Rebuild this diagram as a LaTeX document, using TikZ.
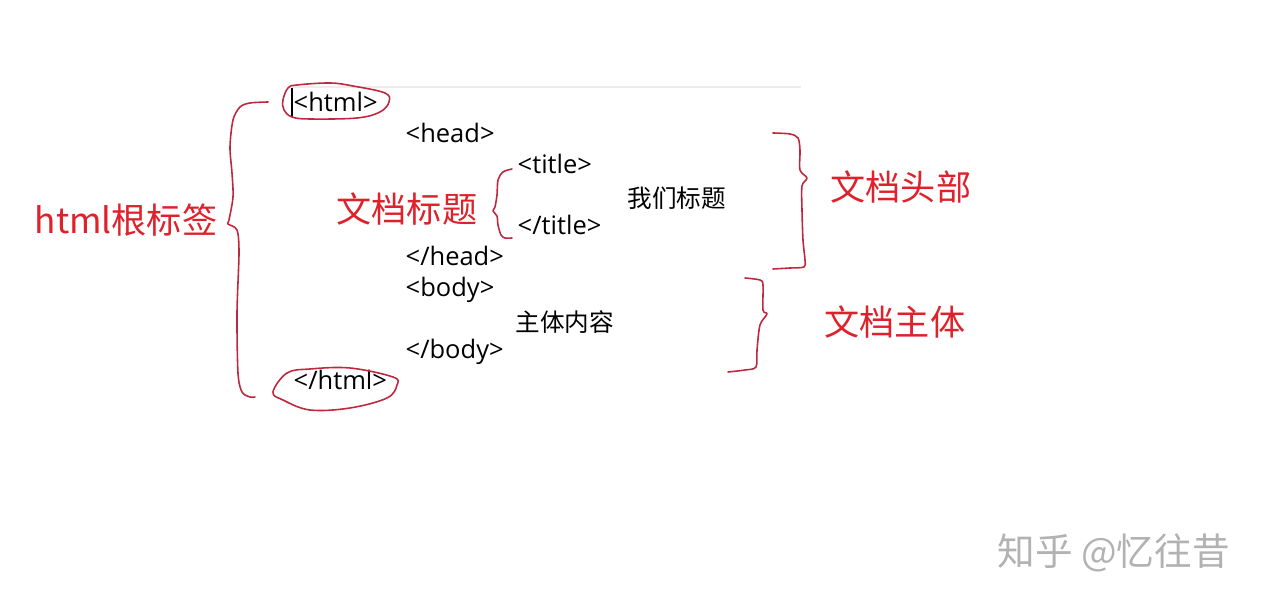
\documentclass[tikz,border=0pt]{standalone}
\usepackage{fontspec}
\setmainfont{Open Sans}
\newfontfamily\cjk{Noto Sans CJK SC}
\definecolor{inkred}{RGB}{222,34,44}
\definecolor{penred}{RGB}{190,40,62}
\tikzset{
    tagtext/.style={anchor=base west, inner sep=0pt, font=\fontsize{7.25}{8}\selectfont},
    cntext/.style={anchor=west, inner sep=0pt, font=\cjk\fontsize{7}{8}\selectfont},
    redlabel/.style={anchor=west, inner sep=0pt, text=inkred, font=\cjk\fontsize{10}{12}\selectfont},
    pen/.style={penred, line width=0.45pt, line join=round, line cap=round}
}
\begin{document}
\begin{tikzpicture}
        \useasboundingbox (0,0) rectangle (12.66,-6.04);
        \draw[line width=0.6pt, black!7] (2.92,-0.87) -- (8.01,-0.87);  % editor ruler line
        % the code lines
        \node[tagtext] (htmlopen) at (2.93,-1.12) {<html>};
        \node[tagtext] (headopen) at (4.05,-1.43) {<head>};
        \node[tagtext] (titleopen) at (5.17,-1.74) {<title>};
        \node[tagtext] (titleclose) at (5.17,-2.35) {</title>};
        \node[tagtext] (headclose) at (4.05,-2.66) {</head>};
        \node[tagtext] (bodyopen) at (4.05,-2.97) {<body>};
        \node[tagtext] (bodyclose) at (4.05,-3.59) {</body>};
        \node[tagtext] (htmlclose) at (2.93,-3.90) {</html>};
        \node[cntext] (titletext) at (6.27,-1.98) {我们标题};
        \node[cntext] (bodytext) at (5.15,-3.22) {主体内容};
        \draw[line width=0.4pt] (2.92,-0.88) -- (2.92,-1.17);  % cursor
        % red notes
        \node[redlabel] (rootnote) at (0.34,-2.20) {html根标签};
        \node[redlabel] (titlenote) at (3.36,-2.09) {文档标题};
        \node[redlabel] (headnote) at (8.30,-1.87) {文档头部};
        \node[redlabel] (bodynote) at (8.24,-3.22) {文档主体};
        % rings round the root tags
        \draw[pen] plot[smooth cycle, tension=0.6] coordinates {
            (2.83,-1.00) (2.88,-0.88) (2.97,-0.85) (3.30,-0.83) (3.53,-0.86)
            (3.85,-0.93) (3.89,-1.02) (3.80,-1.12) (3.57,-1.18) (3.10,-1.19)
            (2.92,-1.17) (2.84,-1.10)};
        \draw[pen] plot[smooth cycle, tension=0.6] coordinates {
            (2.73,-3.92) (2.87,-3.73) (3.10,-3.69) (3.50,-3.68) (3.93,-3.77)
            (3.97,-3.85) (3.87,-3.98) (3.50,-4.08) (3.10,-4.10) (2.83,-4.00)};
        % hand drawn braces
        \draw[pen] plot[smooth, tension=0.5] coordinates {
            (2.68,-1.02) (2.50,-1.03) (2.40,-1.07) (2.33,-1.20) (2.30,-1.47)
            (2.32,-1.73) (2.33,-1.97) (2.29,-2.20) (2.28,-2.24) (2.37,-2.30)
            (2.39,-2.53) (2.37,-3.13) (2.38,-3.73) (2.42,-3.92) (2.50,-3.97) (2.55,-3.97)};
        \draw[pen] plot[smooth, tension=0.5] coordinates {
            (5.12,-1.69) (5.03,-1.72) (4.98,-1.80) (4.97,-1.95) (4.95,-2.07)
            (4.93,-2.11) (4.97,-2.16) (4.98,-2.25) (5.01,-2.35) (5.05,-2.38) (5.12,-2.38)};
        \draw[pen] plot[smooth, tension=0.5] coordinates {
            (7.73,-1.33) (7.90,-1.34) (7.98,-1.38) (8.00,-1.50) (8.00,-1.70)
            (8.07,-1.78) (8.02,-1.86) (8.02,-2.10) (8.03,-2.40) (8.05,-2.60)
            (8.04,-2.67) (7.90,-2.68) (7.73,-2.69)};
        \draw[pen] plot[smooth, tension=0.5] coordinates {
            (7.45,-2.78) (7.60,-2.80) (7.63,-2.85) (7.63,-3.10) (7.67,-3.14)
            (7.60,-3.25) (7.57,-3.50) (7.56,-3.67) (7.45,-3.70) (7.28,-3.72)};
        % watermark
        \node[anchor=west, inner sep=0pt, text=black!30, font=\cjk\fontsize{10.7}{12}\selectfont]
            (mark) at (9.97,-5.53) {知乎 @忆往昔};
    \end{tikzpicture}
\end{document}
